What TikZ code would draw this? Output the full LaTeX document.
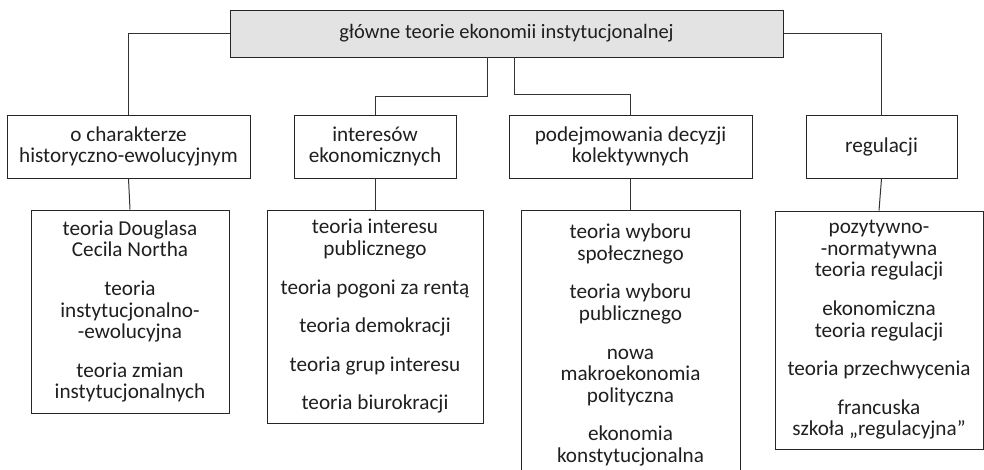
\documentclass[tikz,border=0pt]{standalone}
\usepackage{fontspec}
\setmainfont{Carlito}
\begin{document}
\begin{tikzpicture}[x=1pt,y=-1pt,
  every node/.style={font=\fontsize{21.2}{21.6}\selectfont, text=black!88},
  box/.style={draw=black!85, line width=1pt, inner sep=0pt, align=center},
  topbox/.style={box, fill=black!11, font=\fontsize{20.5}{21.6}\selectfont},
  link/.style={draw=black!80, line width=1pt}]
\useasboundingbox (0,0) rectangle (984,469);
\clip (0,0) rectangle (984,469);

% root
\node[topbox, minimum width=553pt, minimum height=47pt] (top) at (506.5,33.5)
  {główne teorie ekonomii instytucjonalnej};

% second level
\node[box, minimum width=243pt, minimum height=63pt] (a) at (128.5,146.5)
  {o charakterze\\historyczno-ewolucyjnym};
\node[box, minimum width=162pt, minimum height=63pt] (b) at (375,146.5)
  {interesów\\ekonomicznych};
\node[box, minimum width=243pt, minimum height=63pt] (c) at (630.5,146.5)
  {podejmowania decyzji\\kolektywnych};
\node[box, minimum width=151pt, minimum height=63pt] (d) at (881.5,146.5)
  {regulacji};

% third level
\node[box, minimum width=198pt, minimum height=203pt] (la) at (130,311.5)
  {teoria Douglasa\\Cecila Northa\\[17pt]
   teoria\\instytucjonalno-\\-ewolucyjna\\[17pt]
   teoria zmian\\instytucjonalnych};
\node[box, minimum width=216pt, minimum height=213pt] (lb) at (375,316.5)
  {teoria interesu\\publicznego\\[17pt]
   teoria pogoni za rentą\\[17pt]
   teoria demokracji\\[17pt]
   teoria grup interesu\\[17pt]
   teoria biurokracji};
\node[box, minimum width=219pt, minimum height=270pt] (lc) at (630.5,345)
  {teoria wyboru\\społecznego\\[17pt]
   teoria wyboru\\publicznego\\[17pt]
   nowa\\makroekonomia\\polityczna\\[17pt]
   ekonomia\\konstytucjonalna};
\node[box, minimum width=208pt, minimum height=238pt] (ld) at (879,330)
  {pozytywno-\\-normatywna\\teoria regulacji\\[17pt]
   ekonomiczna\\teoria regulacji\\[17pt]
   teoria przechwycenia\\[17pt]
   francuska\\szkoła „regulacyjna”};

% connectors from the root
\coordinate (t1) at (487,57);
\coordinate (t2) at (514,57);
\draw[link] (top.west) -| (a.north);
\draw[link] (top.east) -| (d.north);
\draw[link] (t1) -- ++(0,39) -| (b.north);
\draw[link] (t2) -- ++(0,37) -| (c.north);

% connectors to the lists
\draw[link] (a.south) -- (la.north);
\draw[link] (b.south) -- (lb.north);
\draw[link] (c.south) -- (lc.north);
\draw[link] (d.south) -- (ld.north);
\end{tikzpicture}
\end{document}
